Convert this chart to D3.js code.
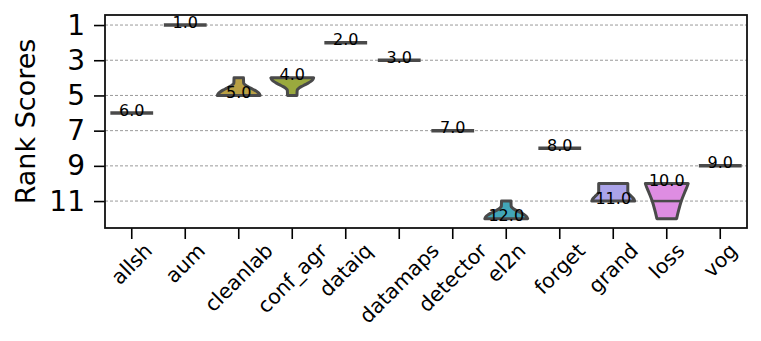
<!DOCTYPE html>
<html>
<head>
<meta charset="utf-8">
<script src="https://cdn.jsdelivr.net/npm/d3@7"></script>
<style>
  body { margin: 0; background: #fff; }
  svg { font-family: "DejaVu Sans", sans-serif; }
</style>
</head>
<body>
<svg id="chart" width="761" height="341"></svg>
<script>
// methods on the x axis, and the rank each one got (labels)
const methods = ["allsh", "aum", "cleanlab", "conf_agr", "dataiq", "datamaps",
  "detector", "el2n", "forget", "grand", "loss", "vog"];
const rankLabels = [6, 1, 5, 4, 2, 3, 7, 12, 8, 11, 10, 9];
const fillColors = ["#e08a99", "#d39a6a", "#b9a044", "#9aa93e", "#5fae6a", "#55ab8f",
  "#4fa9a4", "#42a6b8", "#7ea0e0", "#aba3e9", "#de8de2", "#e08ab8"];

// violin outlines: [rank, relative width]
const cleanlabShape = [[4, 0.22], [4.3, 0.23], [4.4, 0.3], [4.5, 0.42], [4.6, 0.58], [4.7, 0.74], [4.8, 0.87], [4.9, 0.96], [5, 1]];
const confAgrShape = [[4, 1], [4.1, 0.96], [4.2, 0.87], [4.3, 0.74], [4.4, 0.58], [4.5, 0.42], [4.6, 0.3], [4.7, 0.23], [5, 0.22]];
const el2nShape = [[11, 0.22], [11.3, 0.23], [11.4, 0.3], [11.5, 0.42], [11.6, 0.58], [11.7, 0.74], [11.8, 0.87], [11.9, 0.96], [12, 1]];
const grandShape = [[10, 0.68], [10.45, 0.68], [10.6, 0.74], [10.75, 0.86], [10.9, 0.97], [11, 1]];
const lossShape = [[10, 1], [10.08, 0.98], [10.5, 0.84], [11, 0.68], [11.5, 0.56], [12, 0.46]];
const shapes = { cleanlab: cleanlabShape, conf_agr: confAgrShape, el2n: el2nShape, grand: grandShape, loss: lossShape };
const innerLines = [{ method: "loss", rank: 11 }];

const yTicks = [1, 3, 5, 7, 9, 11];

const svg = d3.select("#chart");
const margin = { top: 15, right: 14, bottom: 113, left: 105 };
const width = 761 - margin.left - margin.right;
const height = 341 - margin.top - margin.bottom;
const gray = "#4a4a4a";

const chart = svg.append("g")
  .attr("transform", `translate(${margin.left},${margin.top})`);

const x = d3.scaleBand().domain(methods).range([0, width]).padding(0);
const y = d3.scaleLinear().domain([0.43, 12.53]).range([0, height]);
const halfW = x.bandwidth() * 0.4;

// grid
chart.selectAll(".grid")
  .data(yTicks)
  .enter()
  .append("line")
  .attr("class", "grid")
  .attr("x1", 0)
  .attr("x2", width)
  .attr("y1", d => y(d))
  .attr("y2", d => y(d))
  .attr("stroke", "#9a9a9a")
  .attr("stroke-width", 1)
  .attr("stroke-dasharray", "3,2");

// violins
methods.forEach((m, i) => {
  const cx = x(m) + x.bandwidth() / 2;
  const shape = shapes[m];
  if (shape) {
    const area = d3.area()
      .y(d => y(d[0]))
      .x0(d => cx - d[1] * halfW)
      .x1(d => cx + d[1] * halfW)
      .curve(d3.curveMonotoneY);
    chart.append("path")
      .attr("d", area(shape))
      .attr("fill", fillColors[i])
      .attr("stroke", gray)
      .attr("stroke-width", 3)
      .attr("stroke-linejoin", "round");
  } else {
    chart.append("line")
      .attr("x1", cx - halfW)
      .attr("x2", cx + halfW)
      .attr("y1", y(rankLabels[i]))
      .attr("y2", y(rankLabels[i]))
      .attr("stroke", gray)
      .attr("stroke-width", 3.5);
  }
});

innerLines.forEach(l => {
  const shape = shapes[l.method];
  const w = d3.scaleLinear().domain(shape.map(d => d[0])).range(shape.map(d => d[1]))(l.rank);
  const cx = x(l.method) + x.bandwidth() / 2;
  chart.append("line")
    .attr("x1", cx - w * halfW)
    .attr("x2", cx + w * halfW)
    .attr("y1", y(l.rank))
    .attr("y2", y(l.rank))
    .attr("stroke", gray)
    .attr("stroke-width", 2.5);
});

// value labels
chart.selectAll(".val")
  .data(methods)
  .enter()
  .append("text")
  .attr("class", "val")
  .attr("x", d => x(d) + x.bandwidth() / 2)
  .attr("y", (d, i) => y(rankLabels[i]) - 3)
  .attr("text-anchor", "middle")
  .attr("dominant-baseline", "central")
  .style("font-size", "16px")
  .attr("fill", "#000")
  .text((d, i) => rankLabels[i].toFixed(1));

// axes
const yAxis = chart.append("g")
  .call(d3.axisLeft(y).tickValues(yTicks).tickSize(11).tickPadding(9));
yAxis.select(".domain").remove();
yAxis.selectAll(".tick line").attr("stroke", "#000").attr("stroke-width", 1.6);
yAxis.selectAll(".tick text").style("font-size", "28px").attr("fill", "#000")
  .style("font-family", "DejaVu Sans");

const xAxis = chart.append("g")
  .attr("transform", `translate(0,${height})`)
  .call(d3.axisBottom(x).tickSize(11).tickFormat(""));
xAxis.select(".domain").remove();
xAxis.selectAll(".tick line").attr("stroke", "#000").attr("stroke-width", 1.6);

// rotated x labels, centred under each tick
methods.forEach(m => {
  const cx = x(m) + x.bandwidth() / 2;
  const t = chart.append("text")
    .style("font-size", "20.5px")
    .attr("text-anchor", "middle")
    .attr("dominant-baseline", "central")
    .text(m);
  const len = t.node().getComputedTextLength();
  const cy = height + 12 + (len + 20) * Math.SQRT1_2 / 2;
  t.attr("transform", `translate(${cx},${cy}) rotate(-45)`);
});

// frame
chart.append("rect")
  .attr("width", width)
  .attr("height", height)
  .attr("fill", "none")
  .attr("stroke", "#111")
  .attr("stroke-width", 1.8);

// y label
svg.append("text")
  .attr("transform", `translate(35,${margin.top + height / 2}) rotate(-90)`)
  .attr("text-anchor", "middle")
  .style("font-size", "27px")
  .text("Rank Scores");
</script>
</body>
</html>
